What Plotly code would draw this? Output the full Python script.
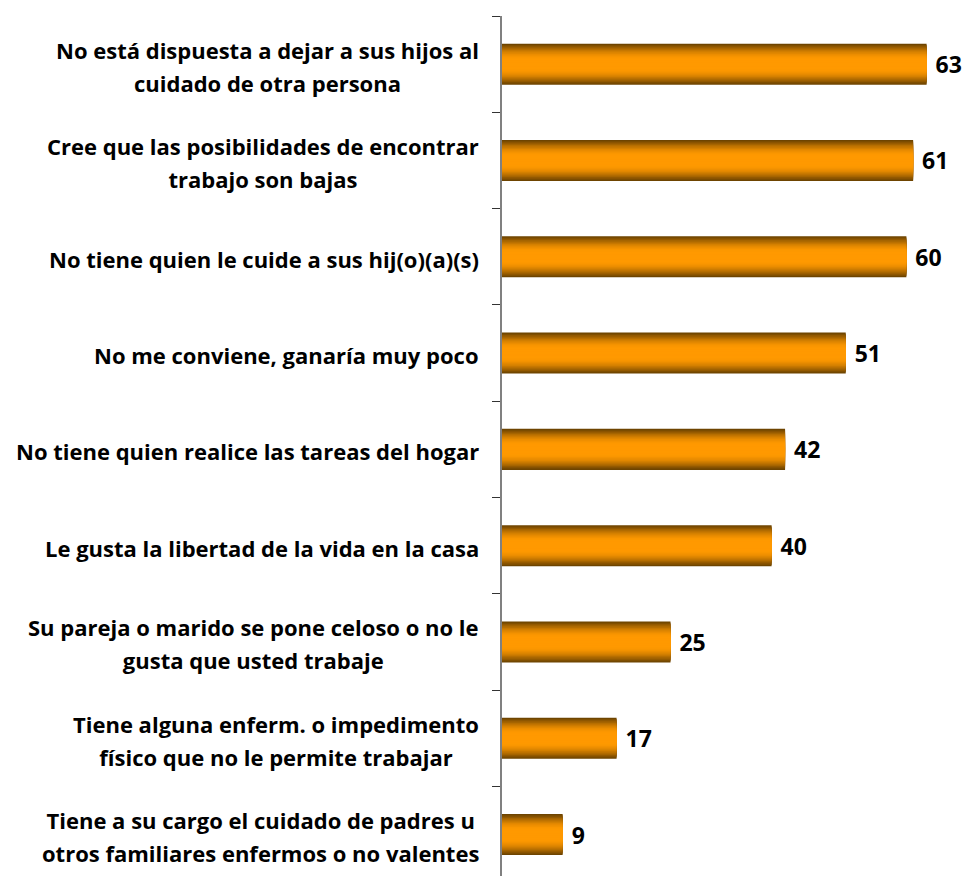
import math
import plotly.graph_objects as go

categories = [
    "No está dispuesta a dejar a sus hijos al<br>cuidado de otra persona",
    "Cree que las posibilidades de encontrar<br>trabajo son bajas",
    "No tiene quien le cuide a sus hij(o)(a)(s)",
    "No me conviene, ganaría muy poco",
    "No tiene quien realice las tareas del hogar",
    "Le gusta la libertad de la vida en la casa",
    "Su pareja o marido se pone celoso o no le<br>gusta que usted trabaje",
    "Tiene alguna enferm. o impedimento<br>físico que no le permite trabajar",
    "Tiene a su cargo el cuidado de padres u<br>otros familiares enfermos o no valentes",
]
values = [63, 61, 60, 51, 42, 40, 25, 17, 9]

FONT = "Open Sans"
LABEL_PX = 22

# gradient simulation: layered bars (edge dark brown -> center orange)
edge = (110, 68, 0)
mid = (255, 153, 0)
n_layers = 16
bar_w = 0.426

fig = go.Figure()
for k in range(n_layers):
    t = k / (n_layers - 1)
    s = math.sin(min(1.0, t / 0.8) * math.pi / 2)
    col = tuple(int(edge[i] + (mid[i] - edge[i]) * s) for i in range(3))
    w = bar_w * (1 - k / n_layers)
    fig.add_trace(go.Bar(
        x=values, y=categories, orientation="h",
        width=w,
        marker=dict(color="rgb(%d,%d,%d)" % col, line=dict(width=0)),
        text=[str(v) for v in values] if k == 0 else None,
        textposition="outside" if k == 0 else "none",
        texttemplate=" %{x}" if k == 0 else None,
        textfont=dict(family=FONT, size=23, color="black", weight="bold"),
        cliponaxis=False,
        hoverinfo="skip",
        showlegend=False,
    ))

for c in categories:
    lines = c.split("<br>")
    txt = "<br>".join('<span style="font-size:%dpx"><b>%s</b></span>' % (LABEL_PX, ln)
                      for ln in lines)
    fig.add_annotation(
        x=0, xref="paper", y=c, yref="y",
        text=txt, showarrow=False,
        xanchor="right", align="center", xshift=-21, yshift=-2,
        font=dict(family=FONT, size=25.5, color="black"),
    )

fig.update_layout(
    width=963, height=876,
    margin=dict(l=502, r=0, t=16, b=0),
    barmode="overlay",
    plot_bgcolor="white", paper_bgcolor="white",
    xaxis=dict(range=[0, 68.4], visible=False),
    yaxis=dict(
        type="category", categoryorder="array", categoryarray=categories,
        range=[8.43, -0.5],
        showline=True, linecolor="#808080", linewidth=2,
        ticks="outside", ticklen=8, tickcolor="#333333", tickwidth=1,
        tickson="boundaries", showgrid=False,
        showticklabels=False,
    ),
)

fig.write_html(
    "out.html",
    config={"displayModeBar": False},
    post_script="document.body.style.margin='0px';document.body.style.overflow='hidden';",
)
